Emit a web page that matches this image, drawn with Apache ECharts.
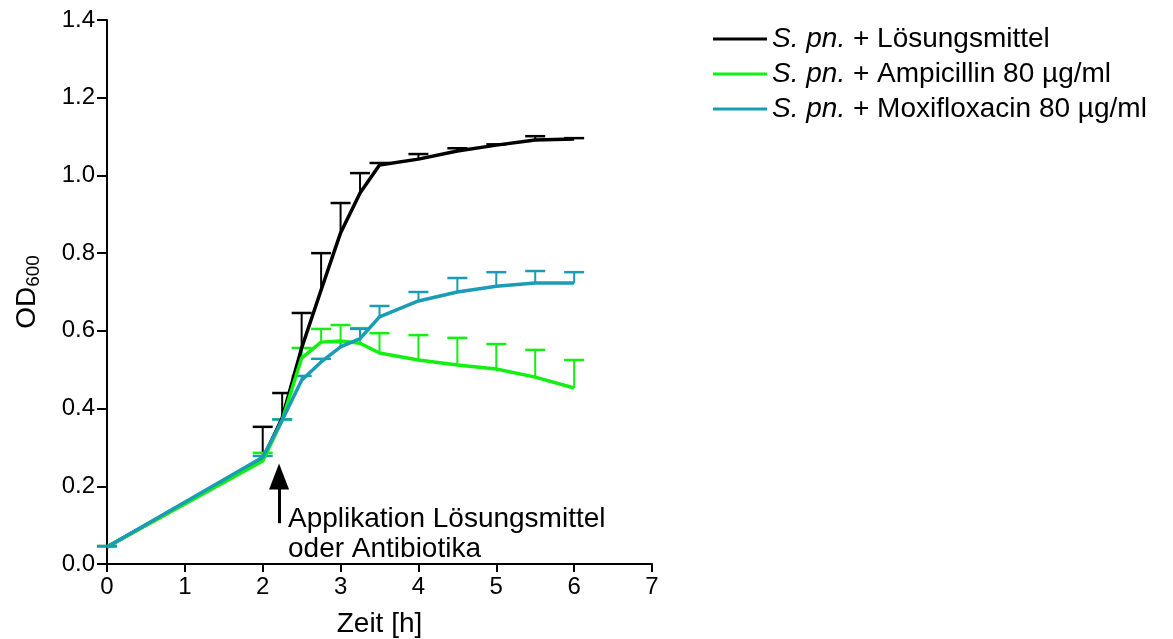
<!DOCTYPE html>
<html>
<head>
<meta charset="utf-8">
<script src="https://cdn.jsdelivr.net/npm/echarts@6/dist/echarts.min.js"></script>
<style>
  html, body { margin: 0; padding: 0; background: #fff; }
  #chart { width: 1173px; height: 639px; }
</style>
</head>
<body>
<div id="chart"></div>
<script>
const FONT = 'Liberation Sans, Arial, sans-serif';

// Zeitpunkte [h]
const zeit = [0, 2, 2.25, 2.5, 2.75, 3, 3.25, 3.5, 4, 4.5, 5, 5.5, 6];

// Mittelwerte OD600
const loesungsmittel = [0.044, 0.27, 0.376, 0.556, 0.705, 0.852, 0.955, 1.027, 1.042, 1.063, 1.078, 1.091, 1.094];
const ampicillin     = [0.044, 0.265, 0.37, 0.53, 0.571, 0.574, 0.568, 0.543, 0.525, 0.512, 0.502, 0.481, 0.453];
const moxifloxacin   = [0.044, 0.275, 0.37, 0.473, 0.52, 0.559, 0.58, 0.636, 0.677, 0.70, 0.715, 0.723, 0.723];

// obere Enden der Fehlerbalken
const loesungsmittelErr = [0.046, 0.353, 0.44, 0.646, 0.80, 0.929, 1.006, 1.032, 1.055, 1.07, 1.08, 1.101, 1.096];
const ampicillinErr     = [0.046, 0.286, 0.372, 0.556, 0.605, 0.615, 0.607, 0.594, 0.589, 0.582, 0.566, 0.551, 0.525];
const moxifloxacinErr   = [0.046, 0.278, 0.372, 0.484, 0.528, 0.571, 0.605, 0.664, 0.70, 0.736, 0.751, 0.754, 0.751];

const namen = ['S. pn. + Lösungsmittel', 'S. pn. + Ampicillin 80 µg/ml', 'S. pn. + Moxifloxacin 80 µg/ml'];
const farben = ['#000000', '#11f011', '#1a9cb6'];

// Pfeil: Applikation (x, y-Start, y-Spitze)
const pfeil = [2.21, 0.105, 0.225];

function linie(name, werte, farbe, z) {
  return {
    name: name,
    type: 'line',
    data: zeit.map((t, i) => [t, werte[i]]),
    symbol: 'none',
    showSymbol: false,
    lineStyle: { color: farbe, width: 3.5 },
    itemStyle: { color: farbe },
    color: farbe,
    z: z,
    animation: false
  };
}

function fehler(name, werte, oben, farbe, z) {
  return {
    name: name + ' (SD)',
    type: 'custom',
    data: zeit.map((t, i) => [t, werte[i], oben[i]]),
    renderItem: function (params, api) {
      const p0 = api.coord([api.value(0), api.value(1)]);
      const p1 = api.coord([api.value(0), api.value(2)]);
      const w = 10;
      return {
        type: 'group',
        children: [
          { type: 'line', shape: { x1: p0[0], y1: p0[1], x2: p1[0], y2: p1[1] }, style: { stroke: farbe, lineWidth: 2 } },
          { type: 'line', shape: { x1: p1[0] - w, y1: p1[1], x2: p1[0] + w, y2: p1[1] }, style: { stroke: farbe, lineWidth: 2.5 } }
        ]
      };
    },
    z: z,
    silent: true,
    animation: false
  };
}

const chart = echarts.init(document.getElementById('chart'));
chart.setOption({
  animation: false,
  grid: { left: 107, right: 521, top: 20, bottom: 75, containLabel: false, outerBoundsMode: 'none' },
  legend: {
    orient: 'vertical',
    left: 708,
    top: 20,
    icon: 'rect',
    itemWidth: 54,
    itemHeight: 3,
    itemGap: 7,
    data: namen,
    formatter: function (n) {
      const rest = n.replace('S. pn. ', '');
      return '{i|S. pn.} ' + rest;
    },
    textStyle: {
      fontFamily: FONT, fontSize: 28, color: '#000', padding: [0, 0, 0, 0],
      rich: { i: { fontFamily: FONT, fontSize: 28, fontStyle: 'italic', color: '#000' } }
    }
  },
  xAxis: {
    type: 'value',
    min: 0, max: 7, interval: 1,
    name: 'Zeit [h]',
    nameLocation: 'middle',
    nameGap: 46,
    nameTextStyle: { fontFamily: FONT, fontSize: 28, color: '#000' },
    axisLine: { show: true, onZero: false, lineStyle: { color: '#000', width: 2 } },
    axisTick: { show: true, length: 8, lineStyle: { color: '#000', width: 2 } },
    axisLabel: { fontFamily: FONT, fontSize: 24, color: '#000', margin: 11 },
    splitLine: { show: false }
  },
  yAxis: {
    type: 'value',
    min: 0, max: 1.4, interval: 0.2,
    name: 'OD{sub|600}',
    nameLocation: 'middle',
    nameGap: 64,
    nameRotate: 90,
    nameTextStyle: {
      fontFamily: FONT, fontSize: 28, color: '#000',
      rich: { sub: { fontFamily: FONT, fontSize: 19, color: '#000', verticalAlign: 'bottom', padding: [12, 0, 0, 0] } }
    },
    axisLine: { show: true, lineStyle: { color: '#000', width: 2 } },
    axisTick: { show: true, length: 10, lineStyle: { color: '#000', width: 2 } },
    axisLabel: { fontFamily: FONT, fontSize: 24, color: '#000', margin: 12, formatter: v => v.toFixed(1) },
    splitLine: { show: false }
  },
  graphic: [
    {
      type: 'text',
      left: 288,
      top: 504,
      style: {
        text: 'Applikation Lösungsmittel\noder Antibiotika',
        font: '28px ' + FONT,
        fill: '#000',
        lineHeight: 30
      }
    }
  ],
  series: [
    fehler(namen[0], loesungsmittel, loesungsmittelErr, farben[0], 2),
    fehler(namen[1], ampicillin, ampicillinErr, farben[1], 3),
    fehler(namen[2], moxifloxacin, moxifloxacinErr, farben[2], 4),
    Object.assign(linie(namen[0], loesungsmittel, farben[0], 5), {
      markLine: {
        silent: true,
        animation: false,
        symbol: ['none', 'triangle'],
        symbolSize: [20, 26],
        label: { show: false },
        lineStyle: { color: '#000', width: 3, type: 'solid' },
        data: [[{ coord: [pfeil[0], pfeil[1]] }, { coord: [pfeil[0], pfeil[2]] }]]
      }
    }),
    linie(namen[1], ampicillin, farben[1], 6),
    linie(namen[2], moxifloxacin, farben[2], 7)
  ]
});
</script>
</body>
</html>
